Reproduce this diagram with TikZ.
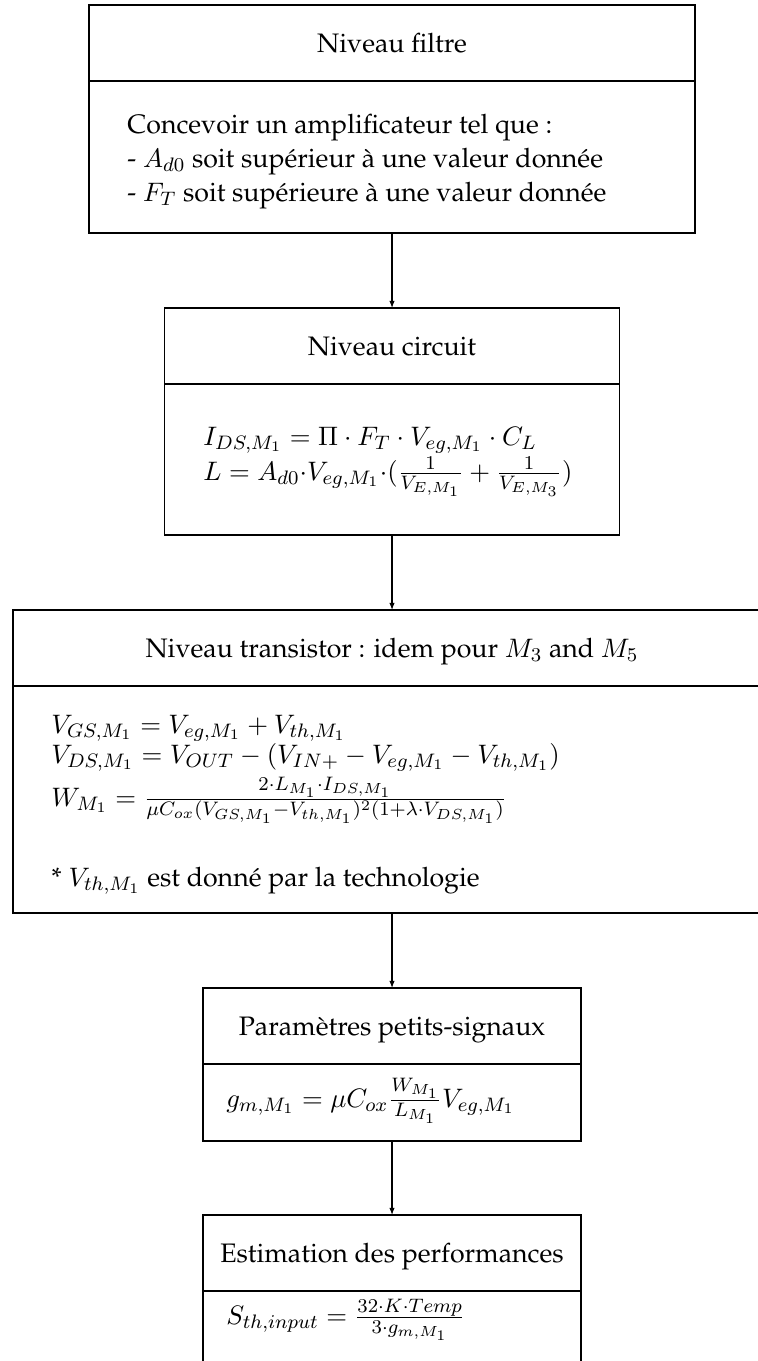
\documentclass[tikz,border=0pt]{standalone}
\usepackage[T1]{fontenc}
\renewcommand{\rmdefault}{ppl}
\usetikzlibrary{arrows.meta}
\newcommand\pxu{0.4098pt}
\begin{document}
\begin{tikzpicture}[x=0.4098pt,y=-0.4098pt,
  font=\fontsize{10.95}{13.6}\selectfont,
  part/.style={draw, line width=0.45pt, inner sep=0pt, outer sep=0pt},
  ttl/.style={part, text height=8pt, text depth=0pt, minimum height=76*\pxu},
  txt/.style={inner sep=0pt, anchor=base west},
  link/.style={-{Latex[length=2.9pt,width=2.2pt]}, line width=0.45pt}]
\useasboundingbox (0,0) rectangle (758,1361);
\clip (0,0) rectangle (758,1361);

% filter level
\node[ttl, minimum width=606*\pxu] (t1) at (392,43) {Niveau filtre};
\node[part, minimum width=606*\pxu, minimum height=152*\pxu] (b1) at (392,157) {};
\node[txt] (l11) at (127,134) {Concevoir un amplificateur tel que :};
\node[txt] (l12) at (127,167) {- $A_{d0}$ soit sup\'erieur \`a une valeur donn\'ee};
\node[txt] (l13) at (127,201) {- $F_T$ soit sup\'erieure \`a une valeur donn\'ee};

% circuit level
\node[ttl, minimum width=455*\pxu] (t2) at (392,346) {Niveau circuit};
\node[part, minimum width=455*\pxu, minimum height=151*\pxu] (b2) at (392,459.5) {};
\node[txt] (l21) at (203,445) {$I_{DS,M_1} = \Pi \cdot F_T \cdot V_{eg,M_1} \cdot C_L$};
\node[txt] (l22) at (203,480) {$L = A_{d0}{\cdot}V_{eg,M_1}{\cdot}(\frac{1}{V_{E,M_1}} + \frac{1}{V_{E,M_3}})$};

% transistor level
\node[ttl, minimum width=758*\pxu] (t3) at (392,648) {Niveau transistor : idem pour $M_3$ and $M_5$};
\node[part, minimum width=758*\pxu, minimum height=227*\pxu] (b3) at (392,799.5) {};
\node[txt] (l31) at (51,733) {$V_{GS,M_1} = V_{eg,M_1} + V_{th,M_1}$};
\node[txt] (l32) at (51,763) {$V_{DS,M_1} = V_{OUT} - (V_{IN+} - V_{eg,M_1} - V_{th,M_1})$};
\node[txt] (l33) at (51,806) {$W_{M_1} = \frac{2\cdot L_{M_1}\cdot I_{DS,M_1}}{\mu C_{ox}(V_{GS,M_1}-V_{th,M_1})^2(1+\lambda\cdot V_{DS,M_1})}$};
\node[txt] (l34) at (51,886) {* $V_{th,M_1}$ est donn\'e par la technologie};

% small-signal parameters
\node[ttl, minimum width=378*\pxu] (t4) at (392,1026) {Param\`etres petits-signaux};
\node[part, minimum width=378*\pxu, minimum height=77*\pxu] (b4) at (392,1102.5) {};
\node[txt] (l41) at (226,1107) {$g_{m,M_1} = \mu C_{ox}\frac{W_{M_1}}{L_{M_1}}V_{eg,M_1}$};

% performance estimation
\node[ttl, minimum width=378*\pxu] (t5) at (392,1253) {Estimation des performances};
\node[part, minimum width=378*\pxu, minimum height=77*\pxu] (b5) at (392,1329.5) {};
\node[txt] (l51) at (226,1324) {$S_{th,input} = \frac{32\cdot K\cdot Temp}{3\cdot g_{m,M_1}}$};

% flow between levels
\draw[link] (b1.south) -- (t2.north);
\draw[link] (b2.south) -- (t3.north);
\draw[link] (b3.south) -- (t4.north);
\draw[link] (b4.south) -- (t5.north);
\end{tikzpicture}
\end{document}
